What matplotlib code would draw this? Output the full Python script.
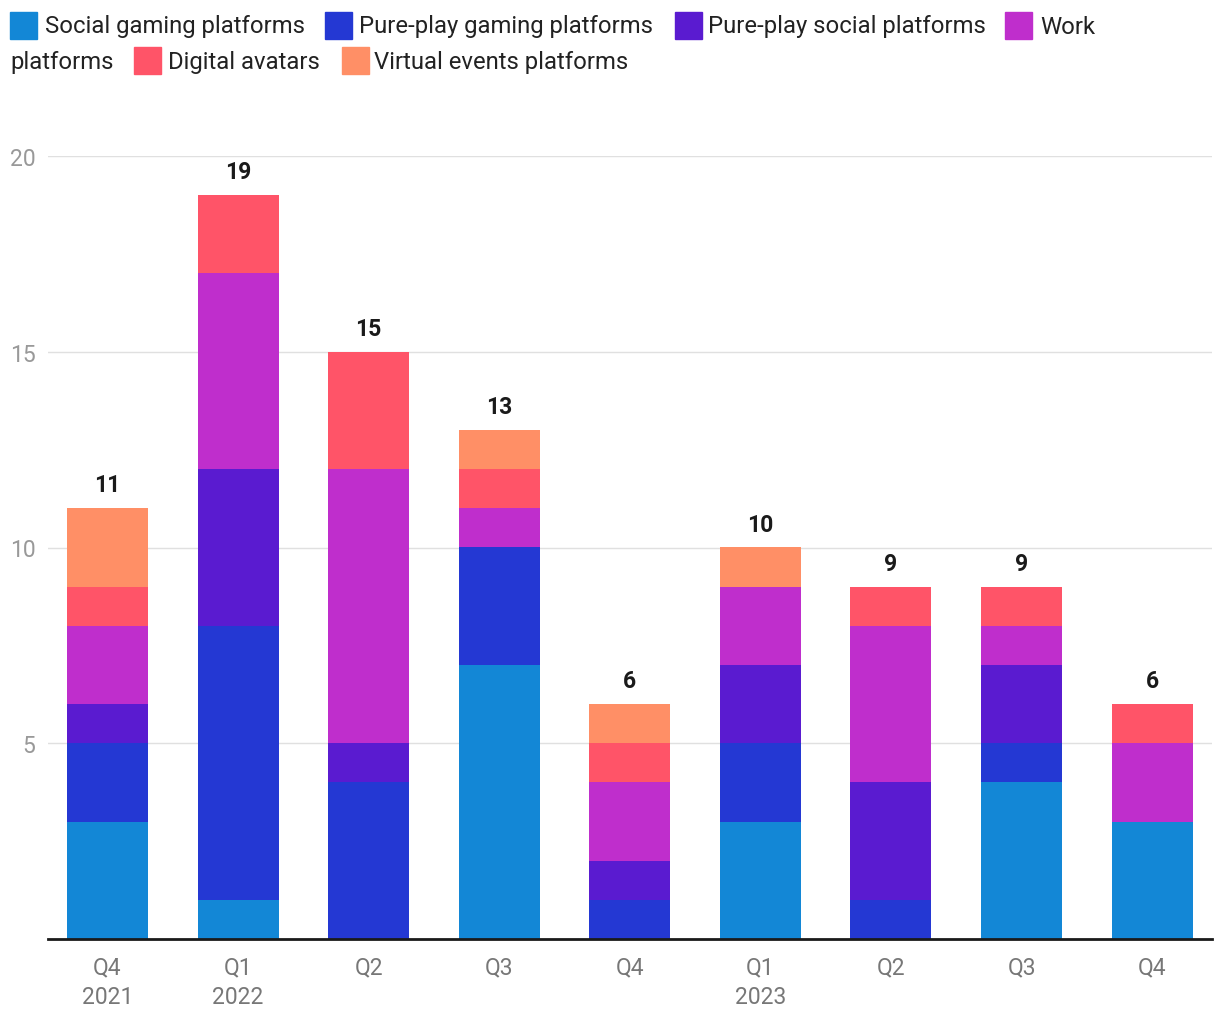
import numpy as np
import matplotlib.pyplot as plt
from matplotlib.patches import Rectangle

plt.rcParams['font.family'] = ['Roboto', 'DejaVu Sans']

quarters = ["Q4\n2021", "Q1\n2022", "Q2", "Q3", "Q4", "Q1\n2023", "Q2", "Q3", "Q4"]
series_names = ["Social gaming platforms", "Pure-play gaming platforms",
                "Pure-play social platforms", "Work platforms",
                "Digital avatars", "Virtual events platforms"]
colors = ["#1387D6", "#2438D3", "#5A1BD0", "#BF2ECC", "#FF5468", "#FF8F66"]

social_gaming = [3, 1, 0, 7, 0, 3, 0, 4, 3]
pure_gaming = [2, 7, 4, 3, 1, 2, 1, 1, 0]
pure_social = [1, 4, 1, 0, 1, 2, 3, 2, 0]
work = [2, 5, 7, 1, 2, 2, 4, 1, 2]
avatars = [1, 2, 3, 1, 1, 0, 1, 1, 1]
events = [2, 0, 0, 1, 1, 1, 0, 0, 0]

series = [social_gaming, pure_gaming, pure_social, work, avatars, events]

fig = plt.figure(figsize=(12.2, 10.2), dpi=100)
ax = fig.add_axes([48/1220, 1 - 940/1020, (1212-48)/1220, (940-157)/1020])

x = np.arange(len(quarters))
bottom = np.zeros(len(quarters))
for vals, col, name in zip(series, colors, series_names):
    ax.bar(x, vals, bottom=bottom, width=0.62, color=col, label=name, zorder=3)
    bottom += np.array(vals)

for xi, tot in zip(x, bottom):
    ax.text(xi, tot + 0.6, f"{int(tot)}", ha="center", va="center",
            fontsize=16.5, fontweight="bold", color="#1a1a1a")

ax.set_xlim(-0.456, 8.459)
ax.set_ylim(0, 20)
ax.set_yticks([5, 10, 15, 20])
ax.set_yticklabels(["5", "10", "15", "20"])
ax.set_xticks(x)
ax.set_xticklabels(quarters, linespacing=1.35)
ax.tick_params(axis="y", length=0, labelsize=16.5, labelcolor="#999999", pad=9)
ax.tick_params(axis="x", length=0, labelsize=16.5, labelcolor="#777777", pad=12)
ax.grid(axis="y", color="#e0e0e0", linewidth=1, zorder=0)
for s in ["top", "right", "left"]:
    ax.spines[s].set_visible(False)
ax.spines["bottom"].set_color("#1a1a1a")
ax.spines["bottom"].set_linewidth(2)
ax.spines["bottom"].set_zorder(4)

# legend, wrapped over two rows like the original
legend_rows = [
    [(10, 45, series_names[0]), (325, 359, series_names[1]),
     (675, 708, series_names[2]), (1005, 1040, "Work")],
    [(None, 10, "platforms"), (134, 168, series_names[4]),
     (342, 374, series_names[5])],
]
legend_colors = [colors[:4], [None, colors[4], colors[5]]]
row_y = [27, 62]
for row, cols, yc in zip(legend_rows, legend_colors, row_y):
    for (sx, tx, label), col in zip(row, cols):
        if sx is not None:
            fig.patches.append(Rectangle((sx/1220, 1 - (yc + 13)/1020), 27/1220, 27/1020,
                                         transform=fig.transFigure, color=col))
        fig.text(tx/1220, 1 - yc/1020, label, fontsize=17.2, color="#222222",
                 ha="left", va="center")

fig.savefig("out.png", dpi=100)
